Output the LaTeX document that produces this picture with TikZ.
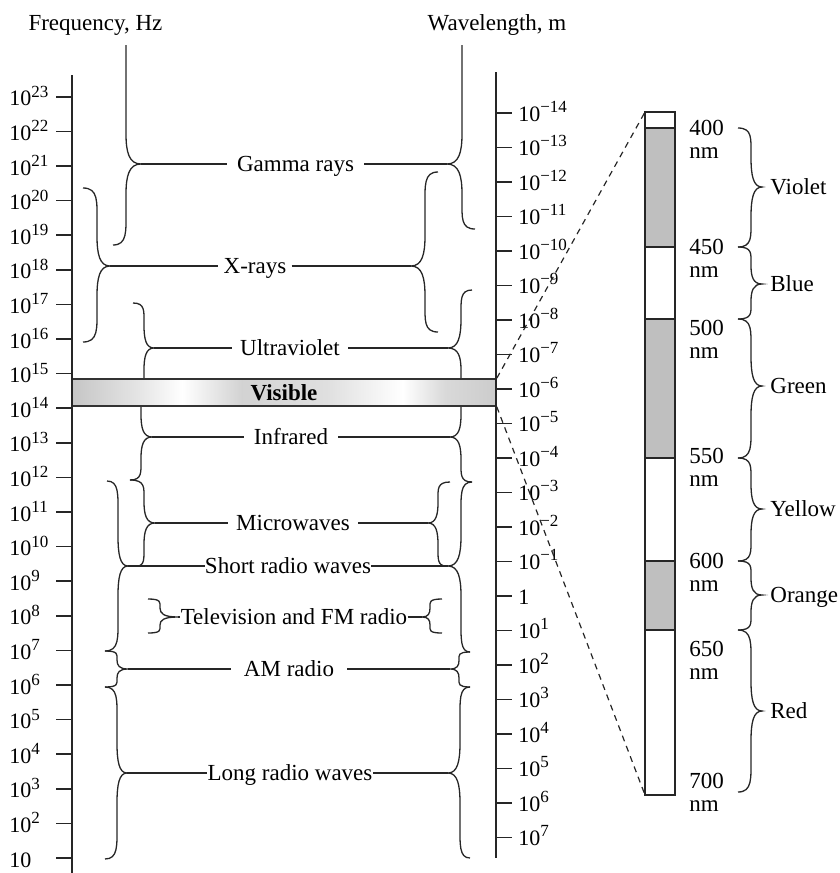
\documentclass[tikz,border=0pt]{standalone}
\usepackage{fontspec}
\setmainfont{Liberation Serif}
\usetikzlibrary{calc}

\pgfdeclarehorizontalshading{metal}{100bp}{color(0bp)=(gray!50); color(25bp)=(gray!45);
  color(33bp)=(gray!20); color(38bp)=(white); color(45bp)=(gray!35); color(55bp)=(gray!25);
  color(64bp)=(white); color(69bp)=(gray!30); color(75bp)=(gray!40); color(100bp)=(gray!40)}

% brace: name, top x, top y, mid x, tip x, tip y, bottom x, bottom y
\newcommand{\wbrace}[8]{%
  \pgfmathsetmacro{\brE}{min(0.45*(#6-#3),34)}%
  \pgfmathsetmacro{\brT}{min(0.5*(#6-#3),30)}%
  \pgfmathsetmacro{\brF}{min(0.45*(#8-#6),34)}%
  \pgfmathsetmacro{\brU}{min(0.5*(#8-#6),30)}%
  \draw[brc] (#2,#3) .. controls ({#4+0.1*(#4-#2)},#3) and (#4,{#3+0.4*\brE}) .. (#4,{#3+\brE})
    -- (#4,{#6-\brT}) .. controls (#4,{#6-0.4*\brT}) and ({#4+0.2*(#5-#4)},#6) .. (#5,#6)
    coordinate (#1)
    .. controls ({#4+0.2*(#5-#4)},#6) and (#4,{#6+0.4*\brU}) .. (#4,{#6+\brU})
    -- (#4,{#8-\brF}) .. controls (#4,{#8-0.4*\brF}) and ({#4+0.1*(#4-#7)},#8) .. (#7,#8);
}
\newcommand{\ex}[1]{\raisebox{0.85ex}{\fontsize{8.5}{9}\selectfont #1}}

\begin{document}
\begin{tikzpicture}[x=0.5pt, y=-0.5pt,
  axis/.style={line width=1pt, draw=black!85},
  tck/.style={line width=0.8pt, draw=black!85},
  brc/.style={line width=0.65pt, draw=black!85},
  lbl/.style={font=\fontsize{11.5}{11.5}\selectfont, anchor=base, inner sep=0pt},
  num/.style={font=\fontsize{11}{11}\selectfont, inner sep=0pt},
  nm/.style={font=\fontsize{11.5}{11.5}\selectfont, align=left, anchor=north west, inner sep=0pt},
  band/.style={draw=black!80, line width=0.8pt, shade, shading=metal,
    minimum width=212pt, minimum height=13.5pt, inner sep=0pt,
    font=\fontsize{11.5}{11.5}\selectfont\bfseries},
  barseg/.style={draw=black!85, line width=0.8pt},
  zoomln/.style={draw=black!85, line width=0.6pt, dash pattern=on 3pt off 2.5pt}
]
\useasboundingbox (0,0) rectangle (840,873);

% Titles
\node[lbl] (freq) at (95.5,30) {Frequency, Hz};
\node[lbl] (wave) at (497,30) {Wavelength, m};

% Left braces
\wbrace{gL}{126}{45}{126}{141}{164}{113}{245}
\wbrace{xL}{83}{188}{97}{110}{266}{83}{342}
\wbrace{uL}{133}{303}{144}{154}{348}{144}{392}
\wbrace{iL}{141}{392}{141}{152}{437}{130}{480}
\wbrace{mL}{130}{480}{144}{155}{523}{137}{566}
\wbrace{sL}{107}{481}{118}{128}{566}{105}{651}
\wbrace{tL}{148}{599}{160}{178}{617}{148}{633}
\wbrace{aL}{105}{651}{117}{128}{669}{105}{687}
\wbrace{lL}{105}{687}{117}{127}{773}{105}{859}

% Right braces
\wbrace{gR}{462}{45}{462}{447}{164}{475}{229}
\wbrace{xR}{438}{172}{425}{411}{266}{438}{332}
\wbrace{uR}{472}{290}{461}{448}{348}{461}{392}
\wbrace{iR}{461}{392}{461}{450}{437}{472}{482}
\wbrace{mR}{450}{482}{438}{428}{523}{446}{566}
\wbrace{sR}{472}{482}{461}{448}{566}{470}{652}
\wbrace{tR}{442}{599}{430}{422}{617}{442}{633}
\wbrace{aR}{470}{652}{459}{450}{669}{470}{687}
\wbrace{lR}{470}{687}{460}{448}{773}{470}{858}

% Band names
\node[lbl, inner sep=5pt] (gam) at (295.5,171.5) {Gamma rays};
\node[lbl, inner sep=2.5pt] (xry) at (255,273.5) {X-rays};
\node[lbl, inner sep=4pt] (uvi) at (290,355.5) {Ultraviolet};
\node[lbl, inner sep=5pt] (inf) at (291,444.5) {Infrared};
\node[lbl, inner sep=4pt] (mic) at (293,530.5) {Microwaves};
\node[lbl] (srw) at (288,573.5) {Short radio waves};
\node[lbl] (tvf) at (294,624.5) {Television and FM radio};
\node[lbl, inner sep=6.5pt] (amr) at (289,676.5) {AM radio};
\node[lbl] (lrw) at (290,780.5) {Long radio waves};

\foreach \t/\n in {g/gam, x/xry, u/uvi, i/inf, m/mic, s/srw, t/tvf, a/amr, l/lrw}{
  \draw[brc] (\t L) -- (\t L -| \n.west);
  \draw[brc] (\n.east |- \t R) -- (\t R);
}

% Visible band
\node[band] (vis) at (284,392.5) {Visible};

% Axes
\draw[axis] (72,75) -- (72,873);
\draw[axis] (496,72) -- (496,858);
\foreach \k in {1,...,23}{
  \pgfmathsetmacro{\yy}{858-34.6*(\k-1)}
  \draw[tck] (56,\yy) -- (72,\yy);
  \ifnum\k=1
    \node[num, anchor=base west] at (9,\yy+9) {10};
  \else
    \node[num, anchor=base west] at (9,\yy+9) {10\ex{\k}};
  \fi
}
\foreach \k in {-14,...,7}{
  \pgfmathsetmacro{\yy}{113+34.5*(\k+14)}
  \pgfmathtruncatemacro{\ak}{abs(\k)}
  \draw[tck] (496,\yy) -- (512,\yy);
  \ifnum\k<0
    \node[num, anchor=base west] at (518,\yy+8) {10\ex{\textminus\ak}};
  \else\ifnum\k=0
    \node[num, anchor=base west] at (518,\yy+8) {1};
  \else
    \node[num, anchor=base west] at (518,\yy+8) {10\ex{\k}};
  \fi\fi
}

% Visible spectrum bar
\draw[barseg, fill=white] (645,112) rectangle (675,128);
\draw[barseg, fill=gray!50] (645,128) rectangle (675,247);
\draw[barseg, fill=white] (645,247) rectangle (675,319);
\draw[barseg, fill=gray!50] (645,319) rectangle (675,458);
\draw[barseg, fill=white] (645,458) rectangle (675,561);
\draw[barseg, fill=gray!50] (645,561) rectangle (675,630);
\draw[barseg, fill=white] (645,630) rectangle (675,795);
\coordinate (barN) at (645,112);
\coordinate (barS) at (645,795);
\draw[zoomln] (vis.north east) -- (barN);
\draw[zoomln] (vis.south east) -- (barS);

\foreach \w/\yy in {400/128, 450/246, 500/327, 550/455, 600/560, 650/648, 700/780}
  \node[nm] at (689,\yy-7.7) {\w\\nm};

% Colour braces
\wbrace{cV}{738}{128}{751}{762}{187}{738}{247}
\wbrace{cB}{738}{247}{751}{762}{284}{738}{319}
\wbrace{cG}{738}{319}{751}{762}{386}{738}{458}
\wbrace{cY}{738}{458}{751}{762}{509}{738}{561}
\wbrace{cO}{738}{561}{751}{762}{595}{738}{630}
\wbrace{cR}{738}{630}{751}{762}{711}{738}{792}

\foreach \c/\s in {V/Violet, B/Blue, G/Green, Y/Yellow, O/Orange, R/Red}
  \node[lbl, anchor=base west] (col\c) at ($(c\c)+(8,7.5)$) {\s};

\end{tikzpicture}
\end{document}
